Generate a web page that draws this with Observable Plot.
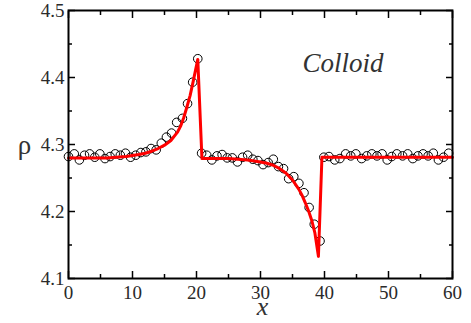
<!DOCTYPE html>
<html><head><meta charset="utf-8">
<script src="https://cdn.jsdelivr.net/npm/d3@7"></script>
<script src="https://cdn.jsdelivr.net/npm/@observablehq/plot@0.6"></script>
<style>html,body{margin:0;padding:0;background:#fff}</style>
</head><body><div id="chart"></div>
<script>
// simulation points (open circles)
const pointX = [0.0,0.9,1.7,2.5,3.3,4.1,4.9,5.7,6.5,7.3,8.1,8.9,9.7,10.5,11.3,12.1,12.9,13.7,14.5,15.3,16.1,16.9,17.8,18.6,19.4,20.2,
  20.8,21.6,22.4,23.2,24.0,24.8,25.6,26.4,27.2,28.0,28.8,29.6,30.4,31.2,32.0,32.8,33.6,34.4,35.2,36.0,36.8,37.6,38.4,39.3,
  39.9,40.7,41.6,42.4,43.3,44.1,44.9,45.8,46.6,47.4,48.2,49.0,49.8,50.5,51.3,52.2,53.0,53.8,54.6,55.4,56.2,57.0,57.8,58.6,59.4];
const pointRho = [4.282,4.286,4.277,4.284,4.286,4.281,4.286,4.279,4.282,4.286,4.284,4.287,4.281,4.284,4.288,4.289,4.294,4.292,4.302,4.311,4.317,4.333,4.339,4.361,4.393,4.428,
  4.287,4.284,4.277,4.283,4.285,4.280,4.280,4.274,4.281,4.284,4.278,4.276,4.270,4.273,4.278,4.267,4.264,4.249,4.252,4.242,4.228,4.206,4.181,4.156,
  4.281,4.282,4.277,4.279,4.286,4.283,4.286,4.279,4.283,4.286,4.283,4.286,4.277,4.282,4.286,4.283,4.286,4.279,4.283,4.286,4.283,4.287,4.277,4.281,4.287];
// theory curve (red line)
const lineX = [0,6,9,11,12,13,14,15,16,17,17.5,18,18.5,19,19.5,20.2,20.85,25,28,30,31,32,33,34,35,36,36.5,37,37.5,38,38.5,39.05,39.6,60];
const lineRho = [4.280,4.280,4.282,4.285,4.287,4.290,4.294,4.299,4.306,4.318,4.327,4.340,4.356,4.373,4.395,4.427,4.279,4.279,4.277,4.274,4.272,4.269,4.264,4.257,4.247,4.233,4.224,4.213,4.201,4.187,4.168,4.133,4.281,4.281];
const xTicks = [0,10,20,30,40,50,60];
const xMinorTicks = [5,15,25,35,45,55];
const yTicks = [4.1,4.2,4.3,4.4,4.5];
const yMinorTicks = [4.15,4.25,4.35,4.45];
const annotation = "Colloid";
const xLabel = "x";
const yLabel = "ρ";

const points = pointX.map((x, i) => ({x, rho: pointRho[i]}));
const curve = lineX.map((x, i) => ({x, rho: lineRho[i]}));
const serif = "'Liberation Serif', 'DejaVu Serif', serif";
const none = () => "";
const tickStyle = {stroke: "black", strokeWidth: 1.5, label: null, tickFormat: none};

const chart = Plot.plot({
  width: 471, height: 323,
  marginLeft: 68, marginRight: 19, marginTop: 10, marginBottom: 45,
  x: {domain: [0, 60]},
  y: {domain: [4.1, 4.5]},
  style: "color: #222; background: #fff; overflow: visible;",
  marks: [
    Plot.dot(points, {x: "x", y: "rho", r: 4.3, stroke: "black", strokeWidth: 1, fill: "none"}),
    Plot.line(curve, {x: "x", y: "rho", stroke: "#ff0000", strokeWidth: 3}),
    Plot.axisX(xTicks, {anchor: "bottom", tickSize: 0, tickPadding: 7, fontSize: 19, fontFamily: serif, label: null, fill: "#2a2a2a"}),
    Plot.axisY(yTicks, {anchor: "left", tickSize: 0, tickPadding: 4, fontSize: 19, fontFamily: serif, label: null, tickFormat: d3.format(".1f"), fill: "#2a2a2a"}),
    Plot.axisX(xTicks, {anchor: "bottom", tickSize: -7, ...tickStyle}),
    Plot.axisX(xMinorTicks, {anchor: "bottom", tickSize: -4, ...tickStyle}),
    Plot.axisX(xTicks, {anchor: "top", tickSize: -7, ...tickStyle}),
    Plot.axisX(xMinorTicks, {anchor: "top", tickSize: -4, ...tickStyle}),
    Plot.axisY(yTicks, {anchor: "left", tickSize: -7, ...tickStyle}),
    Plot.axisY(yMinorTicks, {anchor: "left", tickSize: -4, ...tickStyle}),
    Plot.axisY(yTicks, {anchor: "right", tickSize: -7, ...tickStyle}),
    Plot.axisY(yMinorTicks, {anchor: "right", tickSize: -4, ...tickStyle}),
    Plot.frame({stroke: "black", strokeWidth: 2}),
    Plot.text([annotation], {frameAnchor: "top-left", dx: 234, dy: 42, text: d => d, fontFamily: serif, fontStyle: "italic", fontSize: 27, textAnchor: "start", fill: "#333"}),
    Plot.text([yLabel], {frameAnchor: "left", dx: -44, dy: 1, text: d => d, fontFamily: serif, fontSize: 27, textAnchor: "middle", fill: "#333"}),
    Plot.text([xLabel], {frameAnchor: "bottom", dx: 2, dy: 36, text: d => d, fontFamily: serif, fontSize: 26, fontStyle: "italic", textAnchor: "middle", fill: "#333"})
  ]
});
document.getElementById("chart").appendChild(chart);
</script>
</body></html>
